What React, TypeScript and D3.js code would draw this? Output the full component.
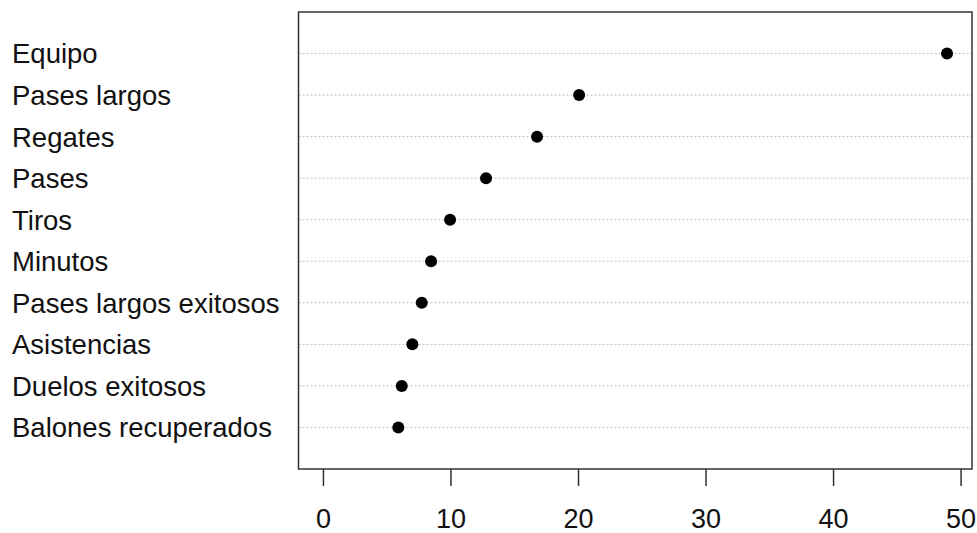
import * as d3 from 'd3';
import { useEffect, useRef } from 'react';

// categories from bottom to top (R dotchart order)
const labels = [
  'Balones recuperados',
  'Duelos exitosos',
  'Asistencias',
  'Pases largos exitosos',
  'Minutos',
  'Tiros',
  'Pases',
  'Regates',
  'Pases largos',
  'Equipo',
];
const values = [5.87, 6.14, 6.97, 7.71, 8.44, 9.93, 12.75, 16.75, 20.05, 48.9];
const xTicks = [0, 10, 20, 30, 40, 50];

const W = 977;
const H = 533;
const FONT = 'Liberation Sans, Arial, sans-serif';

const App = () => {
  const ref = useRef<SVGSVGElement>(null);

  useEffect(() => {
    const svg = d3.select(ref.current);
    svg.selectAll('*').remove();

    // plot region
    const box = { left: 298.5, right: 972, top: 12, bottom: 469 };

    // xlim = c(0, max) extended by 4%
    const xmax = d3.max(values) as number;
    const pad = xmax * 0.04;
    const x = d3.scaleLinear().domain([-pad, xmax + pad]).range([box.left, box.right]);
    const y = d3.scaleLinear().domain([0, labels.length + 1]).range([box.bottom, box.top]);

    // dotted guide lines
    svg.append('g')
      .selectAll('line')
      .data(labels)
      .enter()
      .append('line')
      .attr('x1', box.left)
      .attr('x2', box.right)
      .attr('y1', (d, i) => y(i + 1))
      .attr('y2', (d, i) => y(i + 1))
      .attr('stroke', '#bebebe')
      .attr('stroke-width', 1)
      .attr('stroke-dasharray', '2,2');

    // points
    svg.append('g')
      .selectAll('circle')
      .data(values)
      .enter()
      .append('circle')
      .attr('cx', d => x(d))
      .attr('cy', (d, i) => y(i + 1))
      .attr('r', 6)
      .attr('fill', '#000');

    // box
    svg.append('rect')
      .attr('x', box.left)
      .attr('y', box.top)
      .attr('width', box.right - box.left)
      .attr('height', box.bottom - box.top)
      .attr('fill', 'none')
      .attr('stroke', '#333')
      .attr('stroke-width', 1.5);

    // row labels
    svg.append('g')
      .selectAll('text')
      .data(labels)
      .enter()
      .append('text')
      .attr('x', 12)
      .attr('y', (d, i) => y(i + 1))
      .attr('dy', '0.36em')
      .style('font-family', FONT)
      .style('font-size', '27.5px')
      .attr('fill', '#111')
      .text(d => d);

    // x axis: ticks only, no axis line (R draws box instead)
    const ax = svg.append('g');
    ax.selectAll('line')
      .data(xTicks)
      .enter()
      .append('line')
      .attr('x1', d => x(d))
      .attr('x2', d => x(d))
      .attr('y1', box.bottom)
      .attr('y2', box.bottom + 17)
      .attr('stroke', '#333')
      .attr('stroke-width', 1.5);
    ax.selectAll('text')
      .data(xTicks)
      .enter()
      .append('text')
      .attr('x', d => x(d))
      .attr('y', 528)
      .attr('text-anchor', 'middle')
      .style('font-family', FONT)
      .style('font-size', '27px')
      .attr('fill', '#111')
      .text(d => d);
  }, []);

  return (
    <div style={{ position: 'absolute', left: 0, top: 0, background: '#fff' }}>
      <svg ref={ref} width={W} height={H} style={{ display: 'block' }}></svg>
    </div>
  );
};

export default App;
